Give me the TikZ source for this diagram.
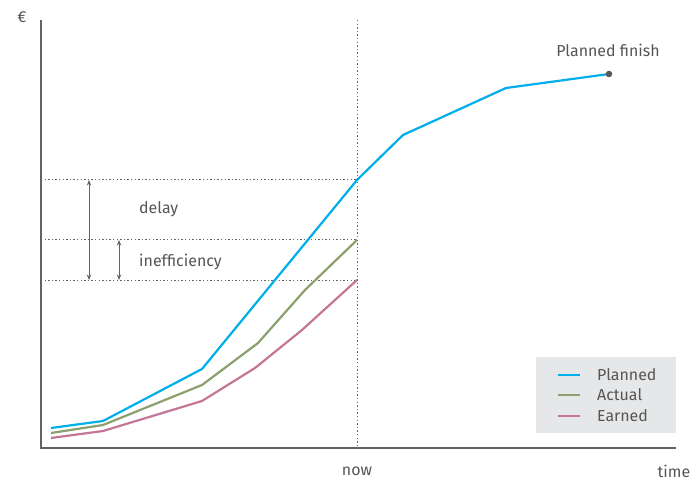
\documentclass[tikz,border=0pt]{standalone}
\usepackage{fontspec}
\setmainfont{Fira Sans}
\usetikzlibrary{arrows.meta}
\definecolor{pblue}{RGB}{0,174,236}
\definecolor{agreen}{RGB}{140,160,110}
\definecolor{epink}{RGB}{196,118,150}
\definecolor{axisgray}{RGB}{100,100,95}
\definecolor{txtgray}{RGB}{85,85,85}
\definecolor{leggray}{RGB}{230,231,232}
\begin{document}
\begin{tikzpicture}[x=1bp,y=-1bp,
  lbl/.style={font=\fontsize{16}{18}\selectfont,text=txtgray,inner sep=0pt},
  curve/.style={line width=2.2bp,line join=round},
  guide/.style={dash pattern=on 1.4bp off 2.2bp,line width=1bp,draw=axisgray},
  dimarrow/.style={line width=0.9bp,draw=axisgray,{Stealth[length=5.5bp,width=4.5bp]}-{Stealth[length=5.5bp,width=4.5bp]}}]
\useasboundingbox (0,0) rectangle (693,482);
% axes
\coordinate (o) at (41,448);
\coordinate (ytop) at (41,20);
\coordinate (xend) at (676,448);
\draw[axisgray,line width=1.1bp] (ytop) -- (o) -- (xend);
\node[lbl] (euro) at (22,17) {€};
% guides
\coordinate (nowtop) at (357,20);
\coordinate (nowbot) at (357,448);
\coordinate (g1l) at (41,180); \coordinate (g1r) at (357,180);
\coordinate (g2l) at (41,240); \coordinate (g2r) at (357,240);
\coordinate (g3l) at (41,280); \coordinate (g3r) at (357,280);
\draw[guide] (nowtop) -- (nowbot);
\draw[guide] (g1l) -- (g1r);
\draw[guide] (g2l) -- (g2r);
\draw[guide] (g3l) -- (g3r);
% dimension arrows
\coordinate (d1) at (89,180); \coordinate (d2) at (89,280);
\coordinate (i1) at (119,240); \coordinate (i2) at (119,280);
\draw[dimarrow] (d1) -- (d2);
\draw[dimarrow] (i1) -- (i2);
\node[lbl,anchor=west] (delay) at (139,209) {delay};
\node[lbl,anchor=west] (ineff) at (139,262) {inefficiency};
% curves
\draw[curve,epink] (51,438) -- (103,431) -- (202,401) -- (255,368) -- (302,330) -- (357,280);
\draw[curve,agreen] (51,433) -- (103,425) -- (202,385) -- (258,343) -- (305,290) -- (357,240);
\draw[curve,pblue] (51,428) -- (103,421) -- (202,369) -- (357,180) -- (403,135) -- (506,88) -- (609,74);
\fill[axisgray!90!black] (609,74) circle (3.3bp);
\node[lbl] (finish) at (608,50) {Planned finish};
% legend
\fill[leggray] (536,357) rectangle (676,433);
\draw[curve,pblue] (558,375) -- (580,375);
\draw[curve,agreen] (558,395) -- (580,395);
\draw[curve,epink] (558,416) -- (580,416);
\node[lbl,anchor=west] (lp) at (597,375) {Planned};
\node[lbl,anchor=west] (la) at (597,395) {Actual};
\node[lbl,anchor=west] (le) at (597,416) {Earned};
% axis labels
\node[lbl] (now) at (357,471) {now};
\node[lbl] (time) at (674,471) {time};
\end{tikzpicture}
\end{document}
